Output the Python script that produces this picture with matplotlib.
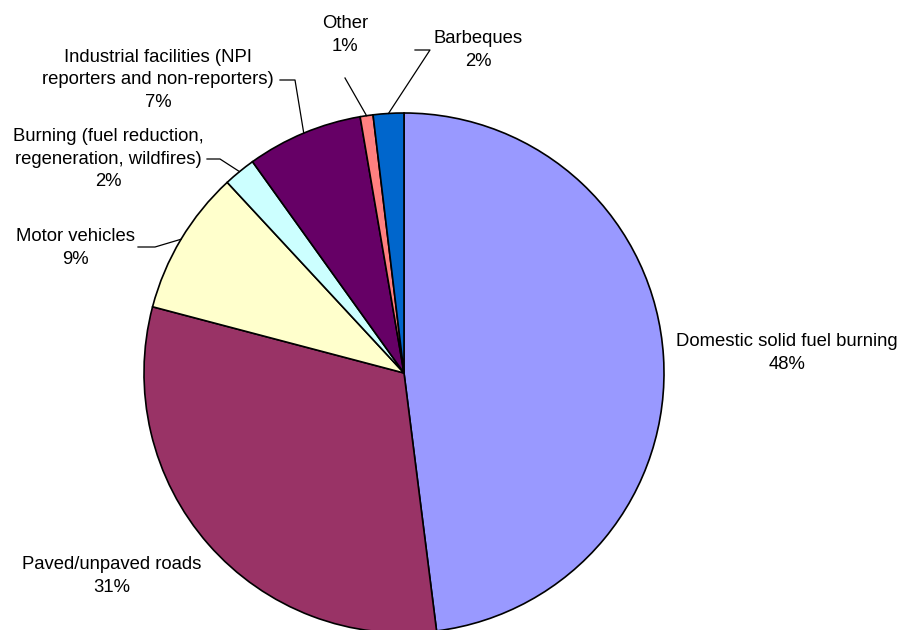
import matplotlib.pyplot as plt
import numpy as np

plt.rcParams['font.family'] = ['Liberation Sans', 'DejaVu Sans']

sources = ["Domestic solid fuel burning", "Paved/unpaved roads", "Motor vehicles",
           "Burning (fuel reduction,\nregeneration, wildfires)",
           "Industrial facilities (NPI\nreporters and non-reporters)", "Other", "Barbeques"]
shares = [48.0, 31.1, 9.0, 2.0, 7.2, 0.8, 1.9]
colors = ["#9999FF", "#993366", "#FFFFCC", "#CCFFFF", "#660066", "#FF8080", "#0066CC"]

# label placement (pixel coords, y from top): text centre, leader elbow
label_pos = [(787, 353), (112, 576), (75, 248), (108, 159), (158, 80), (345, 35), (478, 50)]
leader_elbow = [None, None, (155, 247), (220, 159), (295, 80), (345, 78), (430, 50)]
leader_start = [None, None, (138, 247), (207, 159), (280, 80), None, (415, 50)]

W, H = 898, 630
cx, cy, r = 404, 373, 260

fig = plt.figure(figsize=(W / 100, H / 100), dpi=100)
ax = fig.add_axes([0, 0, 1, 1])
ax.set_xlim(0, W)
ax.set_ylim(0, H)
ax.set_aspect('equal')
ax.axis('off')

wedges, _ = ax.pie(shares, colors=colors, startangle=90, counterclock=False,
                   center=(cx, H - cy), radius=r,
                   wedgeprops=dict(edgecolor='black', linewidth=1.2))
ax.set_xlim(0, W)
ax.set_ylim(0, H)

for i, w in enumerate(wedges):
    pct = "%d%%" % round(shares[i])
    lx, ly = label_pos[i]
    ax.text(lx, H - ly, sources[i] + "\n" + pct, ha='center', va='center',
            fontsize=13.3, linespacing=1.4, color='black')
    if leader_elbow[i] is not None:
        mid = np.deg2rad((w.theta1 + w.theta2) / 2)
        px = cx + r * np.cos(mid)
        py = H - cy + r * np.sin(mid)
        ex, ey = leader_elbow[i]
        xs = [ex, px]
        ys = [H - ey, py]
        if leader_start[i] is not None:
            sx, sy = leader_start[i]
            xs = [sx] + xs
            ys = [H - sy] + ys
        ax.plot(xs, ys, color='black', linewidth=0.9)

fig.savefig("out.png", dpi=100)
